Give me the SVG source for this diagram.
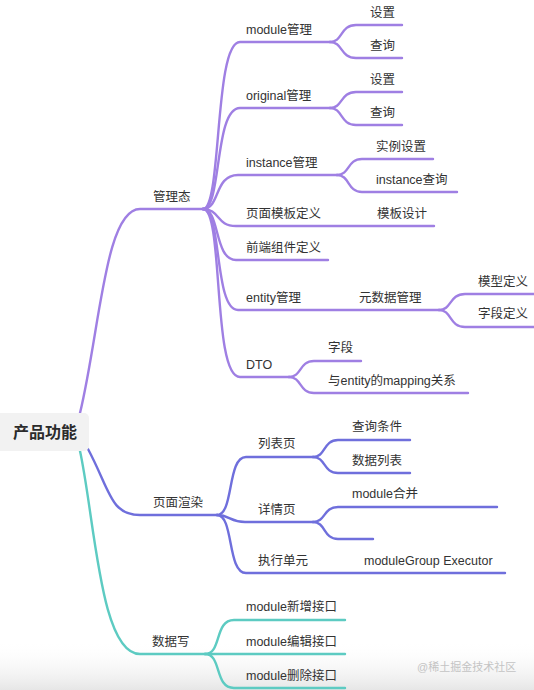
<svg xmlns="http://www.w3.org/2000/svg" width="534" height="690" viewBox="0 0 534 690">
<defs>
<linearGradient id="bottomFade" x1="0" y1="0" x2="0" y2="1">
<stop offset="0" stop-color="#ffffff" stop-opacity="0"/>
<stop offset="1" stop-color="#e6e6e6"/>
</linearGradient>
<style>
text{font-family:"Liberation Sans","Noto Sans CJK SC",sans-serif;font-size:12.5px;fill:#333}
.root{font-size:16px;font-weight:600;fill:#2b2b2b}
.wm{font-size:11px;fill:#c4c4c4}
path{fill:none;stroke-width:2.4;stroke-linecap:round}
.p{stroke:#9f7fe3}
.b{stroke:#6f6fdc}
.t{stroke:#5dcbc2}
</style>
</defs>
<rect x="0" y="0" width="534" height="690" fill="#ffffff"/>
<rect x="0" y="640" width="534" height="50" fill="url(#bottomFade)"/>

<g id="connectors">
<!-- root to main branches -->
<path class="p" d="M80,413 C100,330 105,209 140,209 L203,209"/>
<path class="b" d="M88,449 C110,490 110,515 140,515 L217,515"/>
<path class="t" d="M80,451 C95,520 100,654 140,654 L205,654"/>
<!-- 管理态 children -->
<path class="p" d="M203,209 C222,209 214,42 240,42 L330,42"/>
<path class="p" d="M203,209 C222,209 214,108 240,108 L330,108"/>
<path class="p" d="M203,209 C220,209 214,175 238,175 L337,175"/>
<path class="p" d="M203,209 C220,209 216,226 236,226 L434,226"/>
<path class="p" d="M203,209 C220,209 214,260 236,260 L328,260"/>
<path class="p" d="M203,209 C222,209 214,310 238,310 L439,310"/>
<path class="p" d="M203,209 C224,209 212,377 240,377 L289,377"/>
<!-- module管理 children -->
<path class="p" d="M330,42 C343,42 340,25 356,25 L402,25"/>
<path class="p" d="M330,42 C343,42 340,58 356,58 L402,58"/>
<!-- original管理 children -->
<path class="p" d="M330,108 C343,108 340,92 356,92 L402,92"/>
<path class="p" d="M330,108 C343,108 340,125 356,125 L402,125"/>
<!-- instance管理 children -->
<path class="p" d="M337,175 C350,175 347,159 362,159 L433,159"/>
<path class="p" d="M337,175 C350,175 347,192 362,192 L457,192"/>
<!-- 元数据管理 children -->
<path class="p" d="M439,310 C452,310 449,294 465,294 L534,294"/>
<path class="p" d="M439,310 C452,310 449,327 465,327 L534,327"/>
<!-- DTO children -->
<path class="p" d="M289,377 C302,377 299,361 314,361 L361,361"/>
<path class="p" d="M289,377 C302,377 299,393 314,393 L468,393"/>
<!-- 页面渲染 children -->
<path class="b" d="M217,515 C234,515 227,457 246,457 L313,457"/>
<path class="b" d="M217,515 C230,515 230,522 245,522 L313,522"/>
<path class="b" d="M217,515 C234,515 227,573 246,573 L505,573"/>
<path class="b" d="M313,457 C326,457 323,440 338,440 L410,440"/>
<path class="b" d="M313,457 C326,457 323,473 338,473 L410,473"/>
<path class="b" d="M313,522 C326,522 323,507 338,507 L497,507"/>
<path class="b" d="M313,522 C326,522 323,539 338,539 L373,539"/>
<!-- 数据写 children -->
<path class="t" d="M205,654 C222,654 214,620 234,620 L345,620"/>
<path class="t" d="M205,654 L345,654"/>
<path class="t" d="M205,654 C222,654 214,688 234,688 L345,688"/>
</g>

<g id="root">
<rect x="-6" y="413" width="95" height="38" rx="5" fill="#f2f2f2"/>
<text class="root" x="13" y="438">产品功能</text>
</g>

<g id="n-guanlitai"><text x="153" y="201">管理态</text></g>
<g id="n-module"><text x="246" y="34">module管理</text></g>
<g id="n-module-set"><text x="370" y="17">设置</text></g>
<g id="n-module-query"><text x="370" y="50">查询</text></g>
<g id="n-original"><text x="246" y="100">original管理</text></g>
<g id="n-original-set"><text x="370" y="84">设置</text></g>
<g id="n-original-query"><text x="370" y="117">查询</text></g>
<g id="n-instance"><text x="246" y="167">instance管理</text></g>
<g id="n-instance-set"><text x="376" y="151">实例设置</text></g>
<g id="n-instance-query"><text x="376" y="184">instance查询</text></g>
<g id="n-template"><text x="246" y="218">页面模板定义</text></g>
<g id="n-template-design"><text x="377" y="218">模板设计</text></g>
<g id="n-frontend"><text x="246" y="252">前端组件定义</text></g>
<g id="n-entity"><text x="246" y="302">entity管理</text></g>
<g id="n-metadata"><text x="359" y="302">元数据管理</text></g>
<g id="n-model"><text x="478" y="286">模型定义</text></g>
<g id="n-field-def"><text x="478" y="318">字段定义</text></g>
<g id="n-dto"><text x="246" y="369">DTO</text></g>
<g id="n-dto-field"><text x="328" y="352">字段</text></g>
<g id="n-dto-mapping"><text x="328" y="385">与entity的mapping关系</text></g>

<g id="n-render"><text x="153" y="507">页面渲染</text></g>
<g id="n-list"><text x="258" y="448">列表页</text></g>
<g id="n-list-cond"><text x="352" y="431">查询条件</text></g>
<g id="n-list-data"><text x="352" y="465">数据列表</text></g>
<g id="n-detail"><text x="258" y="514">详情页</text></g>
<g id="n-detail-merge"><text x="352" y="498">module合并</text></g>
<g id="n-exec"><text x="258" y="565">执行单元</text></g>
<g id="n-exec-group"><text x="364" y="565">moduleGroup Executor</text></g>

<g id="n-write"><text x="152" y="646">数据写</text></g>
<g id="n-write-add"><text x="246" y="611">module新增接口</text></g>
<g id="n-write-edit"><text x="246" y="646">module编辑接口</text></g>
<g id="n-write-del"><text x="246" y="680">module删除接口</text></g>

<text class="wm" x="417" y="671">@稀土掘金技术社区</text>
</svg>
